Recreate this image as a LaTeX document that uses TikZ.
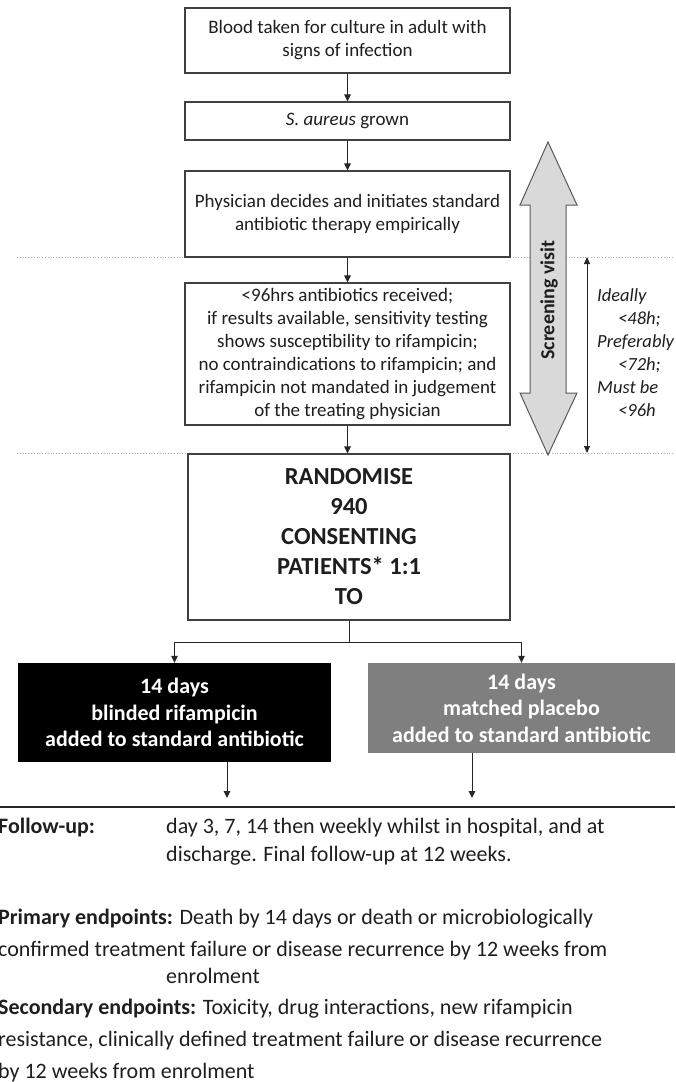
\documentclass[tikz,border=0pt]{standalone}
\usepackage{fontspec}
\setmainfont{Carlito}
\usetikzlibrary{arrows.meta}
\definecolor{boxline}{HTML}{404040}
\definecolor{txt}{HTML}{1E1E1E}
\definecolor{armfill}{HTML}{7F7F7F}
\definecolor{sfill}{HTML}{D9D9D9}
\definecolor{sline}{HTML}{595959}
\definecolor{dotc}{HTML}{B0B0B0}
\begin{document}
\begin{tikzpicture}[x=1pt,y=-1pt,
  stepbox/.style={draw=boxline, line width=1.1pt, fill=white, inner sep=0pt,
    align=center, text=txt, font=\fontsize{19}{23}\selectfont},
  armbox/.style={inner sep=0pt, align=center, text=white,
    font=\bfseries\fontsize{22}{26.5}\selectfont},
  arr/.style={line width=1pt, draw=black!85, -{Triangle[length=7pt,width=6.5pt]}},
  plainline/.style={line width=1pt, draw=black!85},
  dotline/.style={dotc, line width=0.8pt, dotted},
  bodytext/.style={anchor=base west, inner sep=0pt, text=txt, font=\fontsize{22}{30}\selectfont},
  ]
\useasboundingbox (0,0) rectangle (675,1082);

% dotted separators
\coordinate (d1a) at (17,257); \coordinate (d1b) at (675,257);
\coordinate (d2a) at (17,453); \coordinate (d2b) at (675,453);
\draw[dotline] (d1a) -- (d1b);
\draw[dotline] (d2a) -- (d2b);

% main column
\node[stepbox, minimum width=325pt, minimum height=65pt] (b1) at (347.5,40.5)
  {Blood taken for culture in adult with\\signs of infection};
\node[stepbox, minimum width=325pt, minimum height=38pt] (b2) at (347.5,121)
  {\textit{S. aureus} grown};
\node[stepbox, minimum width=325pt, minimum height=86pt] (b3) at (347.5,214)
  {Physician decides and initiates standard\\antibiotic therapy empirically};
\node[stepbox, minimum width=325pt, minimum height=142pt] (b4) at (347.5,354)
  {<96hrs antibiotics received;\\
   if results available, sensitivity testing\\
   shows susceptibility to rifampicin;\\
   no contraindications to rifampicin; and\\
   rifampicin not mandated in judgement\\
   of the treating physician};
\node[stepbox, minimum width=322pt, minimum height=166pt,
      font=\bfseries\fontsize{24.5}{30}\selectfont] (b5) at (349,537)
  {RANDOMISE\\940\\CONSENTING\\PATIENTS* 1:1\\TO};

\draw[arr] (b1) -- (b2);
\draw[arr] (b2) -- (b3);
\draw[arr] (b3) -- (b4);
\draw[arr] (b4.south) -- (b4.south |- b5.north);

% arms
\node[armbox, fill=black, minimum width=313pt, minimum height=99pt] (armA) at (174.5,712.5)
  {14 days\\blinded rifampicin\\added to standard antibiotic};
\node[armbox, fill=armfill, minimum width=307pt, minimum height=90pt] (armB) at (521.5,708)
  {14 days\\matched placebo\\added to standard antibiotic};

\coordinate (split) at (349,642);
\draw[plainline] (b5.south) -- (split);
\draw[arr] (split) -| (armA.north);
\draw[arr] (split) -| (armB.north);

\coordinate (endA) at (227,798);
\coordinate (endB) at (472,798);
\draw[arr] (armA.south -| endA) -- (endA);
\draw[arr] (armB.south -| endB) -- (endB);

% rule
\coordinate (r1) at (0,807); \coordinate (r2) at (675,807);
\draw[line width=1.2pt, draw=black!85] (r1) -- (r2);

% screening visit double arrow
\draw[fill=sfill, draw=sline, line width=1pt, line join=miter]
  (548,142) -- (577,205) -- (566,205) -- (566,393) -- (577,393) -- (548,455)
  -- (520,393) -- (530,393) -- (530,205) -- (520,205) -- cycle;
\node[rotate=90, inner sep=0pt, text=txt, font=\bfseries\fontsize{20}{24}\selectfont] (sv) at (549,300) {Screening visit};

% timing arrow
\coordinate (t1) at (587,257); \coordinate (t2) at (587,453);
\draw[line width=1pt, draw=black!85, {Triangle[length=7pt,width=6pt]}-{Triangle[length=7pt,width=6pt]}] (t1) -- (t2);
\node[anchor=north west, inner sep=0pt, align=left, text=txt,
      font=\itshape\fontsize{18.5}{23}\selectfont] (timing) at (597,288)
  {Ideally\\\hspace*{21pt}<48h;\\Preferably\\\hspace*{21pt}<72h;\\Must be\\\hspace*{21pt}<96h};

% bottom text
\node[bodytext] (fu1) at (-2,833) {\textbf{Follow-up:}};
\node[bodytext] (fu2) at (166,833) {day 3, 7, 14 then weekly whilst in hospital, and at};
\node[bodytext] (fu3) at (166,861) {discharge. Final follow-up at 12 weeks.};
\node[bodytext] (pr1) at (-2,924) {\textbf{Primary endpoints:} Death by 14 days or death or microbiologically};
\node[bodytext] (pr2) at (-2,956) {confirmed treatment failure or disease recurrence by 12 weeks from};
\node[bodytext] (pr3) at (166,983) {enrolment};
\node[bodytext] (se1) at (-2,1014) {\textbf{Secondary endpoints:} Toxicity, drug interactions, new rifampicin};
\node[bodytext] (se2) at (-2,1046) {resistance, clinically defined treatment failure or disease recurrence};
\node[bodytext] (se3) at (-2,1078) {by 12 weeks from enrolment};
\end{tikzpicture}
\end{document}
